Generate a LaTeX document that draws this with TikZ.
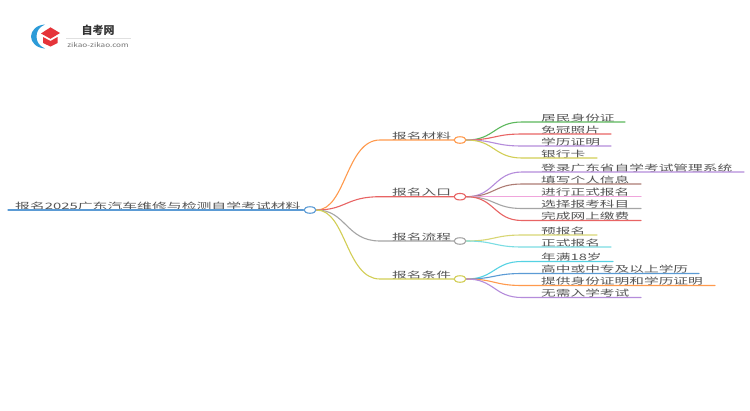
\documentclass[tikz,border=0pt]{standalone}
\usepackage{fontspec}
\setmainfont{Noto Sans CJK SC}
\usetikzlibrary{shapes.geometric}
\newcommand{\wtxt}[2][1.67]{\scalebox{#1}[1]{#2}}
\definecolor{txt}{HTML}{555555}
\definecolor{cblue}{HTML}{5B9BD5}
\definecolor{corange}{HTML}{FF9A4D}
\definecolor{cred}{HTML}{E86464}
\definecolor{cgray}{HTML}{A5A5A5}
\definecolor{colive}{HTML}{D2CE55}
\definecolor{cgreen}{HTML}{5CB85C}
\definecolor{cpurple}{HTML}{B58CDB}
\definecolor{cbrown}{HTML}{AD7C74}
\definecolor{cpink}{HTML}{F0A5DC}
\definecolor{ccyan}{HTML}{7BDDE3}
\definecolor{ccyanb}{HTML}{55D2E3}
\definecolor{cyel}{HTML}{D8D674}
\definecolor{logoblue}{HTML}{2C9BD8}
\definecolor{logored}{HTML}{E5343A}
\tikzset{
  hub/.style={draw=#1,fill=white,ellipse,line width=1.1pt,minimum width=12pt,minimum height=6.5pt,inner sep=0pt},
  lab/.style={anchor=base west,inner sep=0pt,text=txt,font=\fontsize{8.8}{10}\selectfont},
  wire/.style={line width=1.1pt,line cap=round},
  branch/.style={wire,draw=#1},
  leafw/.style={wire,draw=#1}
}
% \leafitem{name}{hub}{y}{end x}{colour}{text}
\newcommand{\leafitem}[6]{%
  \coordinate (#1s) at (522,#3);
  \coordinate (#1e) at (#4,#3);
  \node[lab] (#1) at (541,#3-0.9) {\wtxt{#6}};
  \draw[leafw=#5] (#2.east) .. controls +(28,0) and (494,#3) .. (#1s) -- (#1e);
}
\newcommand{\branchitem}[4]{%
  \coordinate (#1s) at (380,#2);
  \node[hub=#3] (#1) at (460,#2) {};
  \node[lab] (#1t) at (392,#2-0.9) {\wtxt{#4}};
  \draw[branch=#3] (root.east) .. controls (346,210) and (346,#2) .. (#1s) -- (#1.west);
}
\begin{document}
\begin{tikzpicture}[x=1pt,y=-1pt]
\useasboundingbox (0,0) rectangle (750,410);
\fill[white] (0,0) rectangle (750,410);
% logo
\fill[logoblue] (45,24.5) .. controls (36,25) and (31,31) .. (31,36.5) .. controls (31,42) and (36,48) .. (45,48.5) .. controls (39,46) and (36.5,41.5) .. (36.5,36.5) .. controls (36.5,31.5) and (39,27) .. (45,24.5) -- cycle;
\fill[logored] (41,33.5) -- (50.5,27.3) -- (60,33) -- (50.5,38.8) -- cycle;
\fill[logored] (43,37) -- (50.5,41) -- (57.5,37) -- (57.5,43) -- (50.5,46.5) -- (43,43) -- cycle;
\node[inner sep=0pt,text=black!80,font=\fontsize{11}{12}\selectfont\bfseries] (logoa) at (98,30.5) {自考网};
\node[inner sep=0pt,text=black!55,font=\fontsize{6.4}{8}\selectfont] (logob) at (98,44.5) {\wtxt[1.27]{zikao-zikao.com}};
\coordinate (la) at (66,38.5); \coordinate (lb) at (131,38.5);
\draw[black!12,line width=.7pt] (la) -- (lb);
% root
\coordinate (r0) at (8,210);
\node[hub=cblue] (root) at (310,210) {};
\node[lab] (roott) at (15,209.1) {\wtxt[1.687]{报名2025广东汽车维修与检测自学考试材料}};
\draw[wire,draw=cblue] (r0) -- (root.west);
% branches
\branchitem{ba}{140}{corange}{报名材料}
\branchitem{bb}{196.7}{cred}{报名入口}
\branchitem{bc}{241}{cgray}{报名流程}
\branchitem{bd}{279}{colive}{报名条件}
% leaves
\leafitem{a1}{ba}{122}{625}{cgreen}{居民身份证}
\leafitem{a2}{ba}{134}{611}{cred}{免冠照片}
\leafitem{a3}{ba}{146}{611}{cpurple}{学历证明}
\leafitem{a4}{ba}{158}{597}{colive}{银行卡}
\leafitem{b1}{bb}{172}{744}{cpurple}{登录广东省自学考试管理系统}
\leafitem{b2}{bb}{184}{641}{cbrown}{填写个人信息}
\leafitem{b3}{bb}{196.7}{641}{cpink}{进行正式报名}
\leafitem{b4}{bb}{208.5}{641}{cgray}{选择报考科目}
\leafitem{b5}{bb}{220.5}{641}{cred}{完成网上缴费}
\leafitem{c1}{bc}{235}{597}{cyel}{预报名}
\leafitem{c2}{bc}{247}{611}{ccyan}{正式报名}
\leafitem{d1}{bd}{261.5}{613}{ccyanb}{年满18岁}
\leafitem{d2}{bd}{273.5}{699}{cblue}{高中或中专及以上学历}
\leafitem{d3}{bd}{285.5}{715}{corange}{提供身份证明和学历证明}
\leafitem{d4}{bd}{297.5}{641}{cpurple}{无需入学考试}
\end{tikzpicture}
\end{document}
